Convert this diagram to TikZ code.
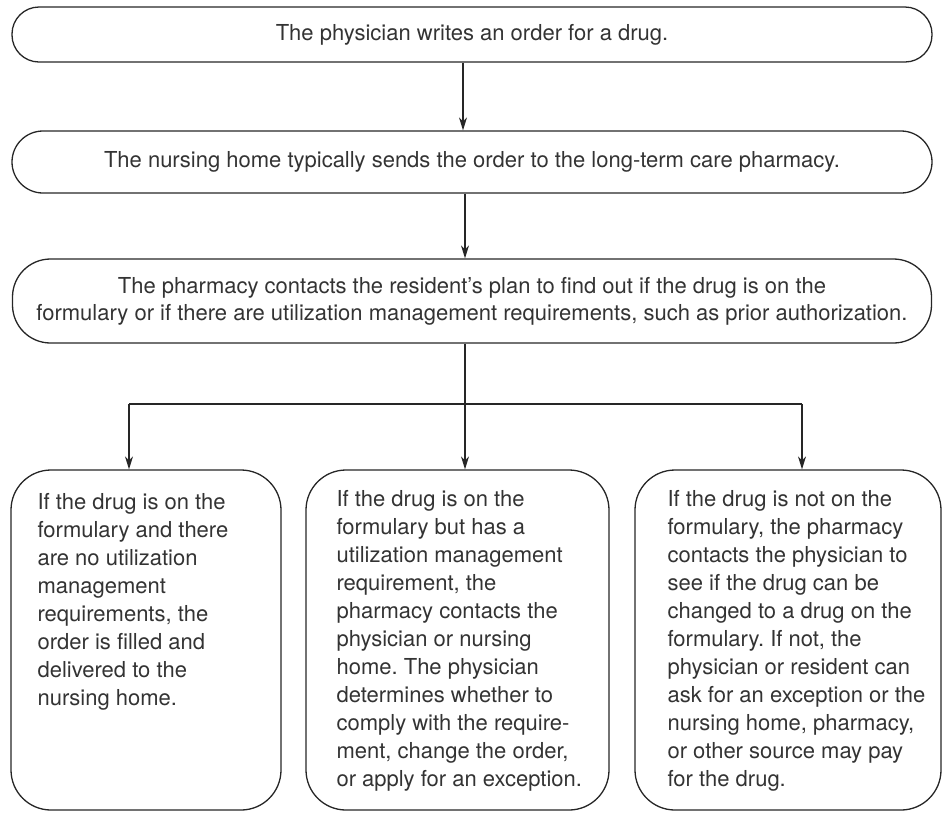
\documentclass[tikz,border=0pt]{standalone}
\usepackage{fontspec}
\setmainfont{TeX Gyre Heros}
\usetikzlibrary{arrows.meta,positioning}
\frenchspacing

\tikzset{
	stage/.style={draw=black!85, line width=1.3pt, inner sep=0pt, align=center, text=black!80, font=\fontsize{22}{27}\selectfont},
	choice/.style={draw=black!85, line width=1.3pt, rounded corners=40pt, minimum height=340pt},
	body/.style={inner sep=0pt, align=left, text=black!80, font=\fontsize{22}{28}\selectfont},
}

\begin{document}
\begin{tikzpicture}[x=1pt, y=-1pt, >={Stealth[length=13pt,width=8pt]}]
	
	\useasboundingbox (0,0) rectangle (942,812);
	
	% steps in a row
	\node [stage, minimum width=920pt, minimum height=55pt, rounded corners=27pt] (order) at (472,34.5) {The physician writes an order for a drug.};
	\node [stage, minimum width=920pt, minimum height=62pt, rounded corners=31pt] (send) at (472,162) {The nursing home typically sends the order to the long-term care pharmacy.};
	\node [stage, minimum width=919pt, minimum height=84pt, rounded corners=38pt] (check) at (472,301) {The pharmacy contacts the resident’s plan to find out if the drug is on the\\formulary or if there are utilization management requirements, such as prior authorization.};
	
	% the three outcomes
	\node [choice, minimum width=270pt] (onlist) at (146,640) {};
	\node [choice, minimum width=303pt] (needum) at (457.5,640) {};
	\node [choice, minimum width=306pt] (offlist) at (788,640) {};
	
	\node [body, below right=24pt and 27pt of onlist.north west] (onlisttext) {If the drug is on the\\formulary and there\\are no utilization\\management\\requirements, the\\order is filled and\\delivered to the\\nursing home.};
	\node [body, below right=21pt and 31pt of needum.north west] (needumtext) {If the drug is on the\\formulary but has a\\utilization management\\requirement, the\\pharmacy contacts the\\physician or nursing\\home. The physician\\determines whether to\\comply with the require-\\ment, change the order,\\or apply for an exception.};
	\node [body, below right=21pt and 33pt of offlist.north west] (offlisttext) {If the drug is not on the\\formulary, the pharmacy\\contacts the physician to\\see if the drug can be\\changed to a drug on the\\formulary. If not, the\\physician or resident can\\ask for an exception or the\\nursing home, pharmacy,\\or other source may pay\\for the drug.};
	
	\coordinate (split) at (465,404);
	\coordinate (lsplit) at (129,404);
	\coordinate (rsplit) at (802,404);
	
	\draw [->, line width=1.1pt, color=black!85] ([xshift=-9pt]order.south) -- ([xshift=-9pt]send.north);
	\draw [->, line width=1.1pt, color=black!85] ([xshift=-7pt]send.south) -- ([xshift=-7pt]check.north);
	\draw [line width=1.1pt, color=black!85] (check.south -| split) -- (split);
	\draw [line width=1.1pt, color=black!85] (lsplit) -- (rsplit);
	\draw [->, line width=1.1pt, color=black!85] (split) -- (split |- needum.north);
	\draw [->, line width=1.1pt, color=black!85] (lsplit) -- (lsplit |- onlist.north);
	\draw [->, line width=1.1pt, color=black!85] (rsplit) -- (rsplit |- offlist.north);
	
\end{tikzpicture}
\end{document}
